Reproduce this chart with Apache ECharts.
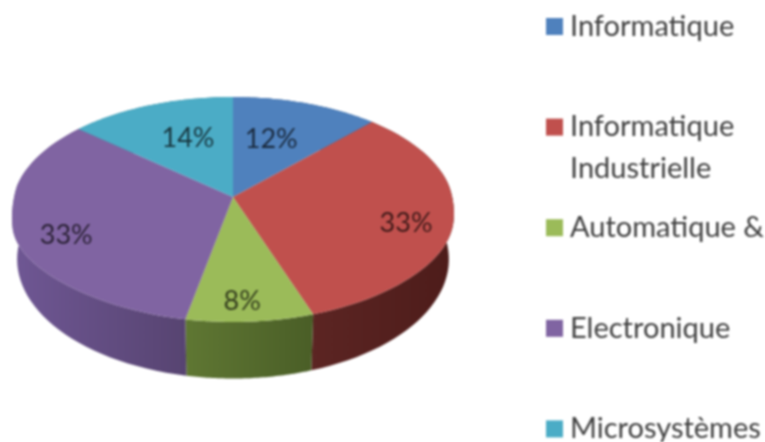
<!DOCTYPE html>
<html lang="fr">

<head>
  <meta charset="UTF-8">
  <title>Repartition</title>
  <script src="https://cdn.jsdelivr.net/npm/echarts@6/dist/echarts.min.js"></script>
  <style>
    * {
      padding: 0;
      margin: 0;
    }

    body {
      background: #fff;
    }

    #main {
      width: 765px;
      height: 442px;
      filter: blur(0.8px);
    }
  </style>
</head>

<body>
  <div id="main"></div>
  <script>
    var categories = ['Informatique', 'Informatique\nIndustrielle', 'Automatique &', 'Electronique', 'Microsystèmes'];
    var shares = [12, 32.7, 8.4, 33.3, 13.6];
    var labels = ['12%', '33%', '8%', '33%', '14%'];

    var topColors = ['#4f81bd', '#c0504d', '#9bbb59', '#8064a2', '#4bacc6'];
    var wallColors = [
      ['#3a5f8c', '#3a5f8c'],
      ['#5c2523', '#4d1c1a'],
      ['#5f7733', '#4a5e27'],
      ['#6f5794', '#574471'],
      ['#37808f', '#37808f']
    ];
    var labelReach = [0.58, 0.8, 0.85, 0.78, 0.57];
    var labelNudge = [[-6, -1], [-2, 7], [-5, 0], [0, 9], [4, -4]];

    // tilted disc: apex of the slices, projected with a little perspective
    var apexX = 233, apexY = 197;
    var spanX = 219.6, spanY = 111.1, persp = 1 / 9;
    var wallDrop = 49, wallScaleX = 0.977, wallScaleY = 1.06;
    var sagLeft = 12, sagRight = 6;
    var steps = 48;

    function project(angle, r) {
      var u = Math.sin(angle) * r;
      var v = -Math.cos(angle) * r;
      var d = 1 - persp * v;
      return [spanX * u / d, spanY * v / d];
    }

    // the front of the rim hangs a bit lower near the sides than a true ellipse
    function rimSag(angle) {
      var u = Math.sin(angle);
      var v = -Math.cos(angle);
      var fade = Math.max(0, Math.min(1, (v + 0.1) / 0.3));
      return (u < 0 ? sagLeft : sagRight) * Math.pow(u, 6) * fade;
    }

    function renderSlice(i, params, api) {
      var from = api.value(0) / 100 * Math.PI * 2;
      var to = from + api.value(1) / 100 * Math.PI * 2;
      var rim = [];
      var base = [];
      for (var s = 0; s <= steps; s++) {
        var angle = from + (to - from) * s / steps;
        var p = project(angle, 1);
        rim.push([apexX + p[0], apexY + p[1] + rimSag(angle)]);
        base.push([apexX + p[0] * wallScaleX, apexY + p[1] * wallScaleY + wallDrop]);
      }
      var mid = project((from + to) / 2, labelReach[i]);
      var wall = wallColors[i];
      return {
        type: 'group',
        children: [
          {
            type: 'polygon',
            z2: 1,
            shape: { points: rim.concat(base.slice().reverse()) },
            style: {
              fill: {
                type: 'linear', x: 0, y: 0, x2: 1, y2: 0,
                colorStops: [{ offset: 0, color: wall[0] }, { offset: 1, color: wall[1] }]
              }
            }
          },
          {
            type: 'polygon',
            z2: 5,
            shape: { points: [[apexX, apexY]].concat(rim) },
            style: { fill: topColors[i] }
          },
          {
            type: 'text',
            z2: 9,
            style: {
              text: labels[i],
              x: apexX + mid[0] + labelNudge[i][0],
              y: apexY + mid[1] + labelNudge[i][1],
              align: 'center',
              verticalAlign: 'middle',
              fill: 'rgba(0,0,0,0.68)',
              font: '27px Lato'
            }
          }
        ]
      };
    }

    var start = 0;
    var series = categories.map(function (name, i) {
      var row = [start, shares[i]];
      start += shares[i];
      return {
        type: 'custom',
        name: name,
        coordinateSystem: 'none',
        silent: true,
        animation: false,
        itemStyle: { color: topColors[i] },
        data: [row],
        renderItem: function (params, api) {
          return renderSlice(i, params, api);
        }
      };
    });

    var lineH = 42;
    var legends = categories.map(function (name, i) {
      var center = 24.5 + i * 100.6;
      var tall = name.indexOf('\n') > -1;
      return {
        data: [name],
        orient: 'vertical',
        left: 546,
        top: center - (tall ? 1.5 : 0.5) * lineH,
        padding: 0,
        icon: 'rect',
        itemWidth: 17,
        itemHeight: 17,
        itemGap: 0,
        selectedMode: false,
        formatter: function (n) {
          // blank first line keeps the swatch next to the first real line
          return n.indexOf('\n') > -1 ? ' \n' + n : n;
        },
        textStyle: {
          fontFamily: 'Lato',
          fontSize: 29,
          lineHeight: lineH,
          color: '#404040',
          padding: [4, 0, 0, 2]
        }
      };
    });

    var myChart = echarts.init(document.getElementById('main'));
    myChart.setOption({
      animation: false,
      legend: legends,
      series: series
    });
  </script>
</body>

</html>
